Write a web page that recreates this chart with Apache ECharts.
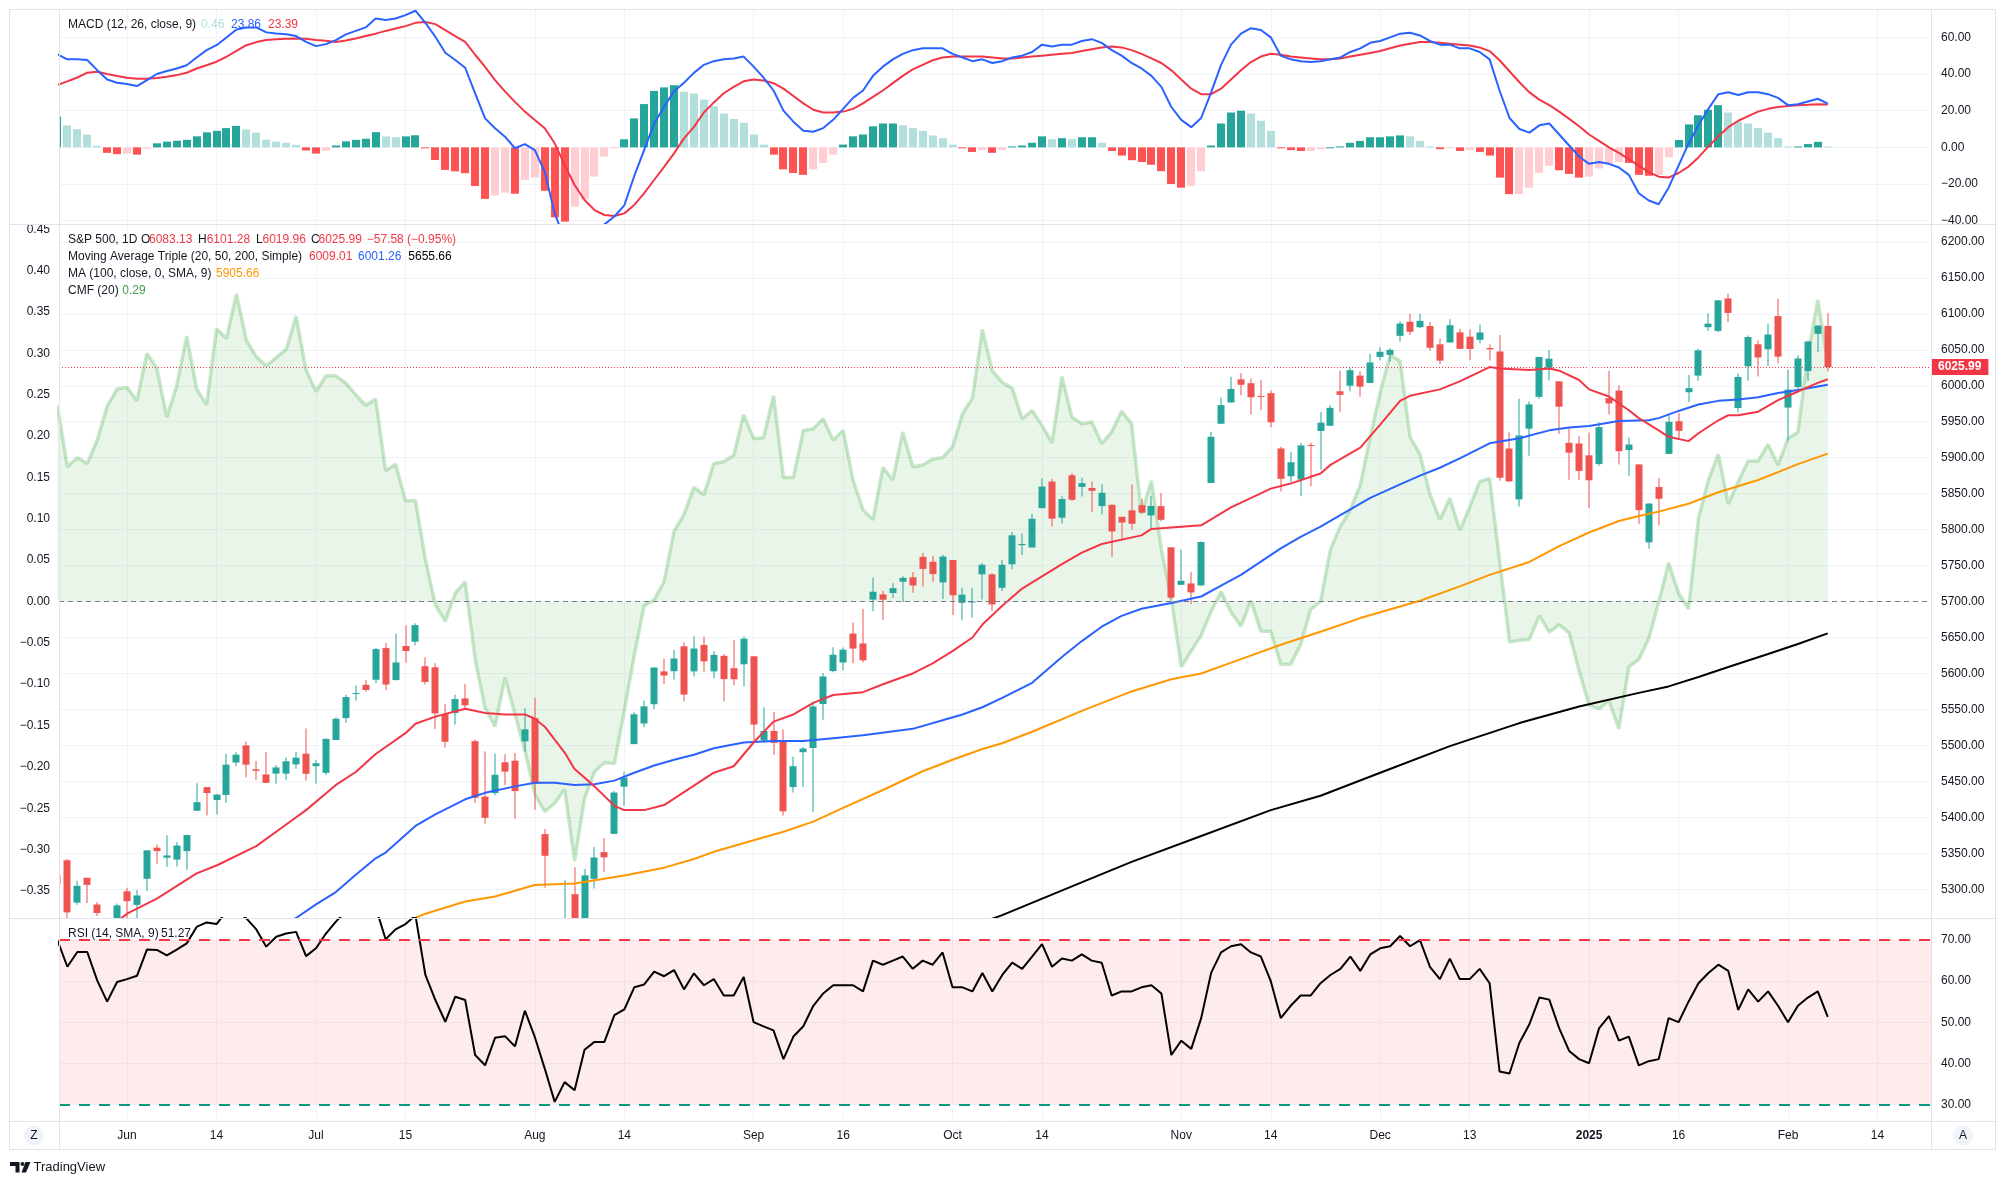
<!DOCTYPE html>
<html><head><meta charset="utf-8">
<script src="https://cdn.jsdelivr.net/npm/echarts@6/dist/echarts.min.js"></script>
<style>html,body{margin:0;padding:0;background:#fff}#c{width:2005px;height:1185px}</style>
</head><body><div id="c"></div>
<script>
// ---------------- DATA ----------------
const FIRST = -7; // bar index of first entry (2024-05-22); 0 = 2024-06-03, 171 = 2025-02-07
const open = [5319.28,5340.26,5281.45,5315.91,5278.73,5259.77,5243.21,
5297.15,5278.24,5314.48,5357.80,5343.81,5341.22,5353.00,5409.13,5441.93,5424.08,5431.11,5476.15,5499.99,5466.77,5459.58,5460.73,5460.71,5473.59,5488.48,
5471.08,5461.84,5507.44,5537.91,5572.75,5584.24,5591.26,5635.21,5590.76,5638.16,5644.09,5610.07,5608.56,5543.37,5544.90,5565.30,5505.84,5428.70,5433.67,5476.55,5478.73,5505.59,
5537.84,5376.63,5151.14,5206.42,5293.13,5248.41,5314.44,5351.55,5376.98,5442.56,5501.76,5530.50,5557.23,5602.88,5603.09,5637.77,5602.89,5639.66,5602.89,5624.51,5607.30,5612.74,
5623.89,5506.68,5520.08,5507.33,5442.07,5490.51,5496.42,5557.48,5603.34,5615.21,5655.51,5641.68,5702.63,5709.84,5711.90,5727.61,5733.65,5762.22,5755.36,5726.52,
5757.73,5698.19,5698.93,5737.81,5737.80,5719.14,5751.80,5778.36,5775.09,5829.81,5866.74,5816.58,5875.62,5859.43,5857.82,5832.70,5834.50,5817.80,5826.75,5833.93,5819.68,5832.65,5775.34,
5723.22,5725.15,5722.43,5864.89,5947.21,5976.76,6008.86,6003.60,5985.75,5989.68,5912.79,5874.17,5869.55,5917.72,5937.17,5944.36,5992.28,6000.03,6014.11,6003.98,
6040.11,6042.97,6069.39,6089.03,6081.38,6083.01,6057.59,6060.15,6074.29,6068.17,6063.79,6052.55,6047.65,5912.71,5842.00,5940.25,5984.63,6024.97,6006.17,5920.67,5919.74,
5903.26,5891.07,5982.81,5993.26,5910.66,5890.66,5782.32,5859.18,5905.21,5950.71,5991.00,6014.12,6081.39,6076.32,6121.43,5969.04,6026.97,6057.70,6050.75,6096.79,
5969.65,5998.14,6020.45,6072.22,6083.13];
const high = [5323.18,5341.88,5311.65,5315.91,5282.27,5260.21,5280.33,
5302.11,5298.80,5354.16,5362.35,5375.08,5365.79,5375.95,5447.25,5441.93,5432.39,5488.50,5490.38,5505.53,5478.31,5490.66,5472.88,5483.14,5490.81,5523.64,
5479.55,5509.69,5539.27,5570.33,5583.11,5590.75,5635.39,5642.45,5655.56,5666.94,5669.67,5622.49,5614.05,5557.50,5570.36,5585.34,5508.04,5491.59,5488.66,5487.74,5489.51,5551.51,
5566.16,5383.89,5250.89,5312.34,5330.64,5328.03,5358.88,5371.20,5436.50,5463.22,5546.23,5561.98,5608.30,5620.51,5632.68,5643.22,5651.62,5651.40,5631.18,5627.03,5646.95,5651.37,
5623.89,5552.99,5546.30,5522.47,5484.20,5497.91,5560.41,5600.71,5636.27,5636.05,5670.81,5689.75,5733.57,5715.14,5725.36,5735.32,5741.03,5767.37,5763.78,5765.14,
5757.73,5719.14,5718.78,5753.43,5739.34,5757.60,5796.80,5795.03,5822.13,5871.41,5870.36,5846.52,5878.46,5872.17,5866.92,5863.04,5834.85,5817.80,5862.82,5842.92,5847.19,5850.94,5775.34,
5772.10,5741.43,5783.44,5936.14,5983.84,6012.45,6017.31,6009.92,6008.19,5993.88,5915.24,5908.12,5920.57,5920.67,5963.44,5972.90,6020.75,6025.42,6020.16,6044.17,
6053.58,6052.06,6089.84,6099.97,6099.97,6088.51,6065.40,6092.59,6079.68,6078.58,6085.19,6057.68,6070.67,5935.52,5982.06,5978.25,6040.10,6049.75,6006.17,5940.79,5929.74,
5935.09,5949.34,6021.04,6000.68,5927.89,5890.66,5836.22,5871.92,5960.61,5962.08,6014.96,6051.51,6100.81,6118.73,6128.18,6017.17,6069.90,6062.83,6086.64,6120.91,
6022.13,6042.48,6062.86,6084.03,6101.28];
const low = [5286.01,5256.43,5278.39,5280.89,5262.70,5222.10,5191.68,
5234.32,5257.63,5297.64,5335.36,5331.33,5331.52,5327.25,5409.13,5402.51,5403.75,5420.40,5471.32,5455.56,5452.03,5447.59,5446.56,5451.87,5467.54,5451.12,
5446.53,5458.43,5507.42,5531.63,5562.51,5574.57,5586.44,5576.53,5590.44,5614.75,5639.02,5584.81,5522.81,5497.04,5529.04,5550.90,5419.98,5390.95,5430.70,5444.44,5397.85,5491.46,
5410.42,5302.03,5119.26,5193.56,5195.54,5233.85,5300.85,5324.37,5376.98,5415.94,5501.76,5525.17,5550.74,5585.50,5591.57,5560.95,5595.91,5602.34,5593.48,5560.95,5583.71,5581.79,
5504.33,5503.66,5486.85,5402.62,5434.49,5441.72,5406.96,5535.50,5601.65,5604.53,5614.05,5615.08,5686.42,5674.49,5704.94,5698.99,5712.06,5721.01,5727.34,5703.53,
5681.28,5674.00,5677.82,5702.83,5686.85,5714.56,5745.02,5764.76,5775.09,5829.81,5804.48,5808.34,5840.25,5846.11,5824.81,5821.17,5762.41,5784.92,5799.98,5823.08,5802.27,5811.28,5702.86,
5723.22,5696.51,5722.10,5864.89,5947.21,5976.76,5986.69,5960.08,5965.91,5942.28,5853.01,5865.95,5846.29,5860.43,5883.14,5944.36,5963.91,5992.27,5984.87,6003.98,
6035.33,6033.39,6061.06,6070.67,6079.98,6048.63,6029.89,6060.15,6051.25,6035.78,6059.14,6035.19,5867.79,5866.07,5832.30,5902.57,5981.44,6007.37,5932.95,5869.16,5868.86,
5829.53,5888.66,5960.01,5890.68,5874.78,5807.78,5773.31,5805.57,5905.21,5925.72,5977.00,6006.88,6076.13,6074.67,6088.74,5962.92,6007.06,6012.96,6027.46,6030.93,
5923.93,5990.87,6007.06,6046.83,6019.96];
const close = [5307.01,5267.84,5304.72,5306.04,5266.95,5235.48,5277.51,
5283.40,5291.34,5354.03,5352.96,5346.99,5360.79,5375.32,5421.03,5433.74,5431.60,5473.23,5487.03,5473.17,5464.62,5447.87,5469.30,5477.90,5482.87,5460.48,
5475.09,5509.01,5537.02,5567.19,5572.85,5576.98,5633.91,5584.54,5615.35,5631.22,5667.20,5588.27,5544.59,5505.00,5564.41,5555.74,5427.13,5399.22,5459.10,5463.54,5436.44,5522.30,
5446.68,5346.56,5186.33,5240.03,5199.50,5319.31,5344.16,5344.39,5434.43,5455.21,5543.22,5554.25,5608.25,5597.12,5620.85,5570.64,5634.61,5616.84,5625.80,5592.18,5591.96,5648.40,
5528.93,5520.07,5503.41,5408.42,5471.05,5495.52,5554.13,5595.76,5626.02,5633.09,5634.58,5618.26,5713.64,5702.55,5718.57,5732.93,5722.26,5745.37,5738.17,5762.48,
5708.75,5709.54,5699.94,5751.07,5695.94,5751.13,5792.04,5780.05,5815.03,5859.85,5815.26,5842.47,5841.47,5864.67,5853.98,5851.20,5797.42,5809.86,5808.12,5823.52,5832.92,5813.67,5705.45,
5728.80,5712.69,5782.76,5929.04,5973.10,5995.54,6001.35,5983.99,5985.38,5949.17,5870.62,5893.62,5916.98,5917.11,5948.71,5969.34,5987.37,6021.63,5998.74,6032.38,
6047.15,6049.88,6086.49,6075.11,6090.27,6052.85,6034.91,6084.19,6051.25,6051.09,6074.08,6050.61,5872.16,5867.08,5930.85,5974.07,6040.04,6037.59,5970.84,5906.94,5881.63,
5868.55,5942.47,5975.38,5909.03,5918.25,5827.04,5836.22,5842.91,5949.91,5937.34,5996.66,6049.24,6086.37,6118.71,6101.24,6012.28,6067.70,6039.31,6071.17,6040.53,
5994.57,6037.88,6061.48,6083.57,6025.99];

// moving averages: [barIndex, value]
const ma20 = [[-1,5255],[0,5266],[3,5287],[7,5322],[9,5333],[13,5360],[16,5390],[18,5410],[21,5445],[23,5463],[25,5488],[28,5517],[29,5530],[31,5540],[34,5551],[36,5545],[38,5543],[40,5543],[41,5537],[42,5526],[43,5508],[44,5490],[45,5467],[47,5443],[49,5416],[50,5410],[52,5410],[54,5417],[56,5435],[59,5462],[61,5471],[63,5504],[65,5533],[67,5543],[69,5559],[71,5570],[74,5574],[76,5585],[79,5600],[81,5614],[83,5631],[85,5650],[86,5668],[88,5694],[90,5718],[94,5752],[96,5768],[98,5780],[102,5792],[103,5801],[106,5804],[108,5806],[111,5831],[115,5857],[117,5864],[120,5878],[121,5890],[124,5914],[126,5946],[128,5979],[129,5986],[132,5995],[134,6006],[137,6026],[138,6024],[141,6022],[143,6024],[144,6021],[146,6008],[147,5995],[149,5985],[151,5966],[152,5955],[154,5938],[155,5929],[157,5923],[158,5934],[160,5952],[161,5959],[162,5959],[164,5964],[166,5980],[168,5992],[170,6004],[171,6009.01]];
const ma50 = [[16,5253],[17,5260],[19,5279],[21,5296],[23,5320],[25,5343],[26,5351],[29,5388],[31,5404],[34,5425],[36,5434],[39,5443],[41,5448],[43,5448],[45,5445],[47,5446],[49,5451],[51,5462],[53,5472],[55,5480],[57,5487],[59,5496],[62,5504],[65,5506],[68,5506],[71,5510],[74,5514],[79,5523],[82,5535],[84,5543],[86,5553],[88,5566],[91,5587],[94,5623],[96,5645],[98,5665],[100,5680],[102,5690],[105,5698],[108,5707],[110,5722],[112,5737],[116,5774],[118,5790],[120,5804],[123,5828],[125,5844],[128,5863],[130,5875],[132,5886],[134,5899],[137,5920],[140,5927],[143,5938],[145,5942],[147,5944],[150,5951],[153,5952],[154,5955],[156,5965],[158,5974],[160,5979],[162,5981],[164,5984],[166,5990],[168,5994],[171,6001.26]];
const ma100 = [[27,5252],[29,5260],[30,5266],[34,5283],[37,5290],[41,5306],[45,5308],[50,5319],[54,5330],[57,5342],[59,5352],[63,5368],[66,5380],[69,5394],[72,5413],[76,5438],[80,5464],[83,5480],[86,5495],[88,5503],[91,5519],[96,5548],[101,5575],[105,5592],[108,5600],[112,5620],[116,5640],[120,5658],[124,5677],[130,5701],[134,5721],[137,5737],[141,5755],[144,5777],[147,5796],[150,5812],[152,5819],[154,5825],[157,5836],[160,5852],[164,5869],[166,5880],[168,5891],[171,5905.66]];
const ma200 = [[86,5254],[88,5264],[95,5304],[101,5338],[108,5374],[115,5410],[120,5430],[126,5462],[133,5499],[140,5531],[146,5554],[152,5573],[155,5582],[158,5595],[161,5609],[165,5627],[168,5641],[171,5655.66]];

// Chaikin Money Flow (20), one value per bar from FIRST
const cmf = [0.237,0.163,0.174,0.167,0.195,0.236,0.257,
0.259,0.243,0.300,0.282,0.223,0.261,0.321,0.257,0.238,0.330,0.318,0.372,0.316,0.296,0.285,0.295,0.305,0.345,0.280,
0.254,0.273,0.273,0.264,0.250,0.237,0.245,0.158,0.166,0.122,0.122,0.051,-0.004,-0.024,0.010,0.024,-0.070,-0.129,-0.151,-0.092,-0.136,-0.180,
-0.233,-0.254,-0.244,-0.227,-0.314,-0.238,-0.206,-0.195,-0.196,-0.132,-0.065,-0.005,0.002,0.024,0.085,0.105,0.138,0.129,0.167,0.169,0.177,0.226,
0.197,0.198,0.249,0.150,0.150,0.207,0.209,0.221,0.195,0.207,0.147,0.111,0.099,0.162,0.147,0.205,0.163,0.165,0.172,0.174,
0.187,0.227,0.246,0.329,0.279,0.265,0.258,0.221,0.231,0.213,0.192,0.272,0.223,0.215,0.217,0.191,0.205,0.230,0.215,0.106,0.146,0.063,0.003,
-0.079,-0.060,-0.041,-0.012,0.012,-0.013,-0.030,0.001,-0.036,-0.036,-0.076,-0.076,-0.052,-0.010,0.000,0.063,0.091,0.111,0.141,0.199,
0.253,0.298,0.291,0.199,0.178,0.130,0.099,0.125,0.086,0.114,0.145,0.149,0.050,-0.049,-0.047,-0.046,-0.017,-0.037,-0.028,-0.038,-0.084,
-0.125,-0.130,-0.120,-0.154,-0.079,-0.070,-0.045,-0.001,0.047,0.010,-0.009,0.101,0.147,0.178,0.118,0.145,0.170,0.170,0.190,0.165,
0.197,0.205,0.298,0.365,0.290];

// RSI(14), one value per bar from FIRST
const rsi = [70.0,63.5,67.1,67.1,60.2,55.0,59.8,
60.5,61.3,67.7,67.6,66.3,67.7,69.2,73.2,74.3,73.9,77,77,75.3,72.6,68.4,70.8,71.6,72.0,66.1,
68.0,71.6,74.5,77,77,77,78,70.2,72.6,73.9,76,61.5,55.4,50.1,56.2,55.4,42.0,39.5,46.2,46.6,44.1,52.8,
46.4,38.7,30.6,35.4,33.4,43.3,45.2,45.2,51.7,53.1,58.5,59.2,62.3,61.2,62.7,58.0,61.9,59,60.5,56.5,56.5,61,
50,49,48,41,46.5,49,54,57,59,59,59,57.5,65,64,65,66,63,65,64,67,
58.5,58.5,57.5,62,57.5,61.5,64.5,63,66,69,63.5,65.5,65,66.5,65,64.5,56.5,57.5,57.5,58.5,59,57,42,
45.5,43.5,51,62,67,68.5,69,67,66,60,51,54,56.5,56.5,59.5,61.5,63,66,62.5,66.5,
68,68.5,71,68.5,70,63.5,60.5,65.5,60.5,60.5,63,59.5,38,37.5,45,49.5,56,55.5,48.5,43,41,
40,48.5,51.5,45.5,46.5,39.5,40.5,41,51,50,55,59.5,62,64,62.5,53,58,55,57.5,54,
50,54,56,57.5,51.27];

// MACD(12,26,9): MACD line, signal line and histogram, one value per bar from FIRST
const macd = [50.7,48,48,47.6,42.1,37,35.2,
34.5,33.4,36.7,40,41.6,43,44.8,49,53,55.7,59.9,64.3,65.4,65.4,62.7,62.1,61.7,60.7,57.5,
55.2,56.3,58.5,61.6,63.5,65.4,70.3,69.4,70.3,72.1,74.5,67.9,60.3,51.6,47.6,43.4,29.4,15.8,10.4,5.8,-0.5,1.8,
-1.5,-13.3,-36,-50.1,-52.9,-57.1,-50.2,-42,-37.7,-31.6,-15.6,-1.4,13,22.1,30.6,35.2,40.6,45,47,48,48.5,49.5,
44,38,31,20,14,9,8.5,10.5,15,21,27,31,39,44,48,51,53,54,54,54,
51,49,47,48,46,47,49,50,52,56,55,56,56,58,59,57,53,50,46,43,39,33,22,
15,11,16,30,45,56,62,65,64,60,50,48,47,46.5,47,48,49,52,54,57,
58,60,62,62.5,61,58,56,56,54,54,52,48,31,16,10,8,12,13,7,1,-5,
-9,-8,-9,-11,-15,-25,-29,-31,-22,-10,2,12,21,29,30,28.5,30,30,29,27,
23,23.5,25,26.5,23.86];
const signal = [34,36,38.1,40.7,41.2,40,38.9,
37.9,37.4,37.4,37.8,38.5,39.4,40.7,43,44.8,46.7,49.4,52.6,55.7,57.4,58.5,59,59.2,59.3,59.2,
58.6,58.1,57.5,58.3,59.4,60.7,62,63.5,64.8,66.1,67.9,68.4,67.2,63.9,60.7,57.5,50.5,43.9,36.7,30.5,24.8,19.5,
14.9,10.4,2.2,-9.6,-20.5,-28.7,-34.2,-36.9,-37.4,-36,-31.4,-25,-17.8,-10.6,-3.3,4.9,11.2,19,24.5,29.5,33,36,
37,36.5,35,32,28,24,20.5,19,19,19.5,21,24,27.5,31,35,39,42.5,45,47.5,49,
49.5,49.5,49.5,49.5,49,48.5,48.5,49,49.5,50,50.5,51,51.5,52.5,53.5,54.5,55,54.5,53,51,48.5,46,42,
37,32,29,29,32,37,42,46.5,49.5,51,50.5,49.5,49,48.5,48,48,48.5,49.5,50.5,51.5,
52.5,54,55.5,56.5,57.5,57.5,57,56.5,56,55.5,54.5,52.5,47.5,41.5,35.5,30,26,23,19.5,15.5,11.5,
7,3.5,0,-3,-6.5,-10,-13.5,-16,-16.5,-14,-10.5,-5.5,0.5,6,11,14.5,17,19.5,21,22,
22.5,23,23.2,23.5,23.39];
const hist = [16.7,12,9.9,6.9,0.9,-3,-3.7,
-3.4,-4,-0.7,2.2,3.1,3.6,4.1,6,8.2,9,10.5,11.7,9.7,8,4.2,3.1,2.5,1.4,-1.7,
-3.4,-1.8,1,3.3,4.1,4.7,8.3,5.9,5.5,6,6.6,-0.5,-6.9,-12.3,-13.1,-14.1,-21.1,-28.1,-26.3,-24.7,-25.3,-17.7,
-16.4,-23.7,-38.2,-40.5,-32.4,-28.4,-16,-5.1,-0.3,4.4,15.8,23.6,30.8,32.7,33.9,30.3,29.4,26,22.5,18.5,15.5,13.5,
7,1.5,-4,-12,-14,-15,-12,-8.5,-4,1.5,6,7,11.5,13,13,12,10.5,9,6.5,5,
1.5,-0.5,-2.5,-1.5,-3,-1.5,0.5,1,2.5,6,4.5,5,4.5,5.5,5.5,2.5,-2,-4.5,-7,-8,-9.5,-13,-20,
-22,-21,-13,1,13,19,20,18.5,14.5,9,-0.5,-1.5,-2,-2,-1,0,0.5,2.5,3.5,5.5,
5.5,6,6.5,6,3.5,0.5,-1,-0.5,-2,-1.5,-2.5,-4.5,-16.5,-25.5,-25.5,-22,-14,-10,-12.5,-14.5,-16.5,
-16,-11.5,-9,-8,-8.5,-15,-15.5,-15,-5.5,4,12.5,17.5,20.5,23,19,14,13,10.5,8,5,
0.5,0.5,1.8,3,0.46];

// axis ticks
const timeTickIdx = [0,9,19,28,41,50,63,72,83,92,106,115,126,135,147,156,167,176];
const timeTickText = ['Jun','14','Jul','15','Aug','14','Sep','16','Oct','14','Nov','14','Dec','13','2025','16','Feb','14'];
const priceTicks = [5300,5350,5400,5450,5500,5550,5600,5650,5700,5750,5800,5850,5900,5950,6000,6050,6100,6150,6200];
const cmfTicks = [-0.35,-0.30,-0.25,-0.20,-0.15,-0.10,-0.05,0,0.05,0.10,0.15,0.20,0.25,0.30,0.35,0.40,0.45];
const macdTicks = [-40,-20,0,20,40,60];
const rsiTicks = [30,40,50,60,70];
const lastClose = 6025.99;

// ---------------- CHART ----------------
const FONT = "'Liberation Sans', Arial, sans-serif";
const TXT = '#131722';
const GRID = '#f0f3fa';
const BORDER = '#e0e3eb';
const UP = '#26a69a', DOWN = '#ef5350';
const RED = '#f23645';
const X_MIN = -6.84, X_MAX = 181.38;
const L = 59, R = 2005 - 1931;

const fmt2 = v => (v < 0 ? '\u2212' : '') + Math.abs(v).toFixed(2);
const tickLabel = {};
timeTickIdx.forEach((t, i) => tickLabel[t] = timeTickText[i]);

const byIdx = arr => arr.map((v, i) => [i + FIRST, v]);
const bars = open.map((o, i) => [i + FIRST, o, close[i], low[i], high[i]]);

function clipOf(params) {
  const cs = params.coordSys;
  return { x: cs.x, y: cs.y, width: cs.width, height: cs.height };
}
function renderCandle(params, api) {
  const x = api.value(0), o = api.value(1), c = api.value(2), lo = api.value(3), hi = api.value(4);
  const pO = api.coord([x, o]), pC = api.coord([x, c]), pL = api.coord([x, lo]), pH = api.coord([x, hi]);
  const clip = clipOf(params);
  const color = c >= o ? UP : DOWN;
  const cx = Math.round(pO[0]);
  const top = Math.min(pO[1], pC[1]);
  const h = Math.max(1, Math.abs(pO[1] - pC[1]));
  const wick = echarts.graphic.clipRectByRect({ x: cx - 0.5, y: pH[1], width: 1, height: pL[1] - pH[1] }, clip);
  const body = echarts.graphic.clipRectByRect({ x: cx - 3.5, y: top, width: 7, height: h }, clip);
  const children = [];
  if (wick) children.push({ type: 'rect', shape: wick, style: { fill: color } });
  if (body) children.push({ type: 'rect', shape: body, style: { fill: color } });
  return { type: 'group', children };
}
function renderHist(params, api) {
  const i = params.dataIndex;
  const x = api.value(0), v = api.value(1);
  const p = i > 0 ? hist[i - 1] : v;
  const color = v >= 0 ? (v >= p ? '#26a69a' : '#b2dfdb') : (v < p ? '#ff5252' : '#ffcdd2');
  const p0 = api.coord([x, 0]), p1 = api.coord([x, v]);
  const cx = Math.round(p0[0]);
  const shape = echarts.graphic.clipRectByRect({ x: cx - 4, y: Math.min(p0[1], p1[1]), width: 8, height: Math.max(1, Math.abs(p1[1] - p0[1])) }, clipOf(params));
  return shape ? { type: 'rect', shape, style: { fill: color } } : null;
}

function xAxis(gridIndex, labels) {
  return {
    type: 'value', gridIndex, min: X_MIN, max: X_MAX,
    axisLine: { show: false },
    axisTick: { show: false, customValues: timeTickIdx },
    axisLabel: {
      show: labels, customValues: timeTickIdx, margin: 8, color: TXT, fontSize: 12, fontFamily: FONT,
      formatter: v => { const t = tickLabel[Math.round(v)]; return t === '2025' ? '{b|2025}' : (t || ''); },
      rich: { b: { fontWeight: 'bold', fontSize: 12, fontFamily: FONT, color: TXT } }
    },
    splitLine: { show: true, lineStyle: { color: GRID, width: 1 } }
  };
}
function yAxis(gridIndex, min, max, ticks, pos, fmt, split, margin) {
  return {
    type: 'value', gridIndex, min, max, position: pos,
    axisLine: { show: false },
    axisTick: { show: false, customValues: ticks },
    axisLabel: { show: true, customValues: ticks, formatter: fmt, color: TXT, fontSize: 12, fontFamily: FONT, margin: margin },
    splitLine: { show: split, lineStyle: { color: GRID, width: 1 } }
  };
}

const T = (x, y, text, fill, extra) => ({
  type: 'text', x, y, silent: true, z: 50,
  style: Object.assign({ text, fill, font: '12px ' + FONT, textAlign: 'left', textVerticalAlign: 'middle', align: 'left', verticalAlign: 'middle' }, extra || {})
});
const LN = (x1, y1, x2, y2) => ({ type: 'line', silent: true, z: 40, shape: { x1, y1, x2, y2 }, style: { stroke: BORDER, lineWidth: 1 } });

const graphic = [
  { type: 'rect', silent: true, z: 40, shape: { x: 9.5, y: 9.5, width: 1986, height: 1140 }, style: { fill: 'none', stroke: BORDER, lineWidth: 1 } },
  LN(9.5, 224.5, 1995.5, 224.5), LN(9.5, 918.5, 1995.5, 918.5), LN(9.5, 1121.5, 1995.5, 1121.5),
  LN(59.5, 9.5, 59.5, 1149.5), LN(1931.5, 9.5, 1931.5, 1149.5),
  // legends
  T(68, 24.5, 'MACD (12, 26, close, 9)', TXT), T(201, 24.5, '0.46', '#b2dfdb'), T(231, 24.5, '23.86', '#2962ff'), T(268, 24.5, '23.39', RED),
  T(68, 239.5, 'S&P 500, 1D', TXT), T(141, 239.5, 'O', TXT), T(149, 239.5, '6083.13', RED),
  T(198, 239.5, 'H', TXT), T(206.7, 239.5, '6101.28', RED), T(256, 239.5, 'L', TXT), T(262.5, 239.5, '6019.96', RED),
  T(311, 239.5, 'C', TXT), T(318.5, 239.5, '6025.99', RED), T(366.7, 239.5, '\u221257.58 (\u22120.95%)', RED),
  T(68, 256.5, 'Moving Average Triple (20, 50, 200, Simple)', TXT), T(309, 256.5, '6009.01', RED), T(358, 256.5, '6001.26', '#2962ff'), T(408.3, 256.5, '5655.66', '#000000'),
  T(68, 273.5, 'MA (100, close, 0, SMA, 9)', TXT), T(216, 273.5, '5905.66', '#ff9800'),
  T(68, 290.5, 'CMF (20)', TXT), T(122.3, 290.5, '0.29', '#43a047'),
  T(68, 933.5, 'RSI (14, SMA, 9)', TXT), T(161, 933.5, '51.27', TXT),
  // scale buttons
  { type: 'circle', silent: true, z: 40, shape: { cx: 34, cy: 1135.5, r: 10 }, style: { fill: '#f0f3fa' } },
  T(34, 1135.5, 'Z', '#131722', { textAlign: 'center', align: 'center' }),
  { type: 'circle', silent: true, z: 40, shape: { cx: 1963, cy: 1135.5, r: 10 }, style: { fill: '#f0f3fa' } },
  T(1963, 1135.5, 'A', '#131722', { textAlign: 'center', align: 'center' }),
  // TradingView mark
  { type: 'polygon', silent: true, z: 40, shape: { points: [[10, 1162], [19.5, 1162], [19.5, 1172.5], [15.5, 1172.5], [15.5, 1166], [10, 1166]] }, style: { fill: '#131722' } },
  { type: 'circle', silent: true, z: 40, shape: { cx: 22.5, cy: 1164, r: 2 }, style: { fill: '#131722' } },
  { type: 'polygon', silent: true, z: 40, shape: { points: [[25.5, 1162], [30.5, 1162], [26, 1172.5], [21.5, 1172.5]] }, style: { fill: '#131722' } },
  T(33.5, 1167.5, 'TradingView', '#131722', { font: '13px ' + FONT })
];

const option = {
  backgroundColor: '#ffffff',
  animation: false,
  textStyle: { fontFamily: FONT },
  grid: [
    { left: L, right: R, top: 10, height: 214 },
    { left: L, right: R, top: 224, height: 694 },
    { left: L, right: R, top: 918, height: 204 }
  ],
  xAxis: [xAxis(0, false), xAxis(1, false), xAxis(2, true)],
  yAxis: [
    yAxis(0, -41.8, 74.9, macdTicks, 'right', fmt2, true, 10),
    yAxis(1, 5260, 6224.9, priceTicks, 'right', v => v.toFixed(2), true, 10),
    yAxis(1, -0.3828, 0.4566, cmfTicks, 'left', fmt2, false, 9),
    yAxis(2, 25.69, 75.38, rsiTicks, 'right', v => v.toFixed(2), true, 10),
    {
      type: 'value', gridIndex: 1, min: 5260, max: 6224.9, position: 'right',
      axisLine: { show: false }, axisTick: { show: false, customValues: [lastClose] },
      axisLabel: { show: true, customValues: [lastClose], formatter: v => v.toFixed(2), color: '#ffffff', fontWeight: 'bold', fontSize: 12, fontFamily: FONT, backgroundColor: RED, padding: [2, 7, 2, 7], margin: 0 },
      splitLine: { show: true, lineStyle: { color: RED, width: 1, type: [1, 2] } }
    }
  ],
  series: [
    { type: 'custom', name: 'hist', xAxisIndex: 0, yAxisIndex: 0, data: byIdx(hist), encode: { x: 0, y: 1 }, renderItem: renderHist, z: 2 },
    { type: 'line', name: 'macd', xAxisIndex: 0, yAxisIndex: 0, data: byIdx(macd), showSymbol: false, lineStyle: { color: '#2962ff', width: 2 }, z: 4 },
    { type: 'line', name: 'signal', xAxisIndex: 0, yAxisIndex: 0, data: byIdx(signal), showSymbol: false, lineStyle: { color: RED, width: 2 }, z: 3 },
    {
      type: 'line', name: 'cmf', xAxisIndex: 1, yAxisIndex: 2, data: byIdx(cmf), showSymbol: false, z: 1,
      lineStyle: { color: 'rgba(76,175,80,0.30)', width: 3.5 },
      areaStyle: { color: 'rgba(76,175,80,0.18)', origin: 0 },
      markLine: { silent: true, symbol: ['none', 'none'], label: { show: false }, lineStyle: { color: '#787b86', type: [5, 4], width: 1 }, data: [{ yAxis: 0 }] }
    },
    { type: 'custom', name: 'S&P 500', xAxisIndex: 1, yAxisIndex: 1, data: bars, encode: { x: 0, y: [1, 2, 3, 4] }, renderItem: renderCandle, z: 3 },
    { type: 'line', name: 'MA100', xAxisIndex: 1, yAxisIndex: 1, data: ma100, showSymbol: false, lineStyle: { color: '#ff9800', width: 2 }, z: 4 },
    { type: 'line', name: 'MA200', xAxisIndex: 1, yAxisIndex: 1, data: ma200, showSymbol: false, lineStyle: { color: '#000000', width: 2 }, z: 4 },
    { type: 'line', name: 'MA50', xAxisIndex: 1, yAxisIndex: 1, data: ma50, showSymbol: false, lineStyle: { color: '#2962ff', width: 2 }, z: 4 },
    { type: 'line', name: 'MA20', xAxisIndex: 1, yAxisIndex: 1, data: ma20, showSymbol: false, lineStyle: { color: RED, width: 2 }, z: 4 },
    {
      type: 'line', name: 'RSI', xAxisIndex: 2, yAxisIndex: 3, data: byIdx(rsi), showSymbol: false, z: 4,
      lineStyle: { color: '#000000', width: 2 },
      markArea: { silent: true, itemStyle: { color: 'rgba(242,54,69,0.10)' }, data: [[{ yAxis: 30 }, { yAxis: 70 }]] },
      markLine: {
        silent: true, symbol: ['none', 'none'], label: { show: false },
        lineStyle: { type: [11, 9], width: 2 },
        data: [{ yAxis: 70, lineStyle: { color: RED, type: [11, 9], width: 2 } }, { yAxis: 30, lineStyle: { color: '#089981', type: [11, 9], width: 2 } }]
      }
    }
  ],
  graphic
};
const chart = echarts.init(document.getElementById('c'), null, { renderer: 'canvas' });
chart.setOption(option);
</script>
</body></html>
